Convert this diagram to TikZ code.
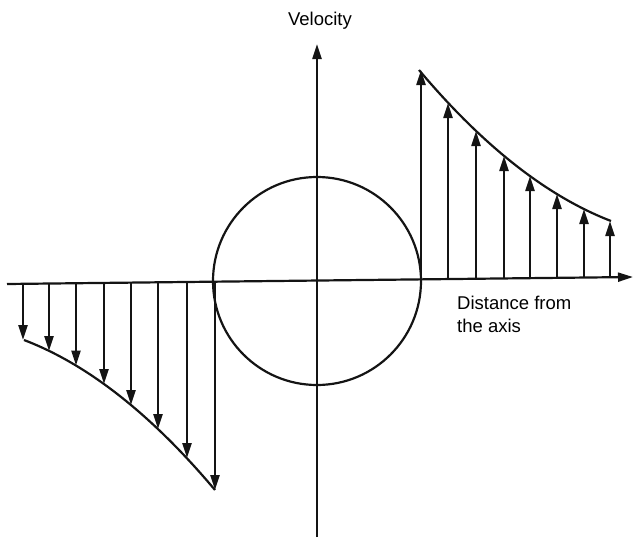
\documentclass[tikz,border=0pt]{standalone}
\usepackage{fontspec}
\setmainfont{Liberation Sans}
\usetikzlibrary{arrows.meta}
\begin{document}
\begin{tikzpicture}[x=1pt,y=-1pt,
  ln/.style={line width=2.2pt,black!92},
  vec/.style={ln,-{Triangle[length=15pt,width=9pt]}},
  lbl/.style={font=\fontsize{18.5}{23}\selectfont,inner sep=0pt}]
\useasboundingbox (0,0) rectangle (633,538);
% axes
\coordinate (hl) at (7,284);
\coordinate (hr) at (633,277);
\coordinate (vb) at (317,537);
\coordinate (vt) at (317,44);
\draw[vec] (hl) -- (hr);
\draw[vec] (vb) -- (vt);
% circle
\coordinate (c) at (317,281);
\draw[ln] (c) circle[radius=104];
% labels
\node[lbl,anchor=base] (v) at (320,26) {Velocity};
\node[lbl,anchor=base west,align=left] (d) at (457,332) {Distance from\\the axis};
% right profile
\foreach \i/\x/\y in {1/421/70,2/448/103,3/476/131,4/504/156,5/530/176,6/557/194,7/584/209,8/610/221}{
  \pgfmathsetmacro{\yb}{284-7*(\x-7)/626}
  \coordinate (rb\i) at (\x,\yb);
  \coordinate (rt\i) at (\x,\y);
  \draw[vec] (rb\i) -- (rt\i);
}
\coordinate (rs) at (419,70);
\coordinate (re) at (611,221);
\draw[ln] (rs) .. controls (483,146) and (547,196.3) .. (re);
% left profile
\foreach \i/\x/\y in {1/23/340,2/49/351,3/76/365.5,4/104/384,5/131/405,6/158/429,7/187/458,8/215/490}{
  \pgfmathsetmacro{\yb}{284-7*(\x-7)/626}
  \coordinate (lb\i) at (\x,\yb);
  \coordinate (lt\i) at (\x,\y);
  \draw[vec] (lb\i) -- (lt\i);
}
\coordinate (ls) at (24,340);
\coordinate (le) at (215,490);
\draw[ln] (ls) .. controls (87.7,364.3) and (151.3,414.3) .. (le);
\end{tikzpicture}
\end{document}
